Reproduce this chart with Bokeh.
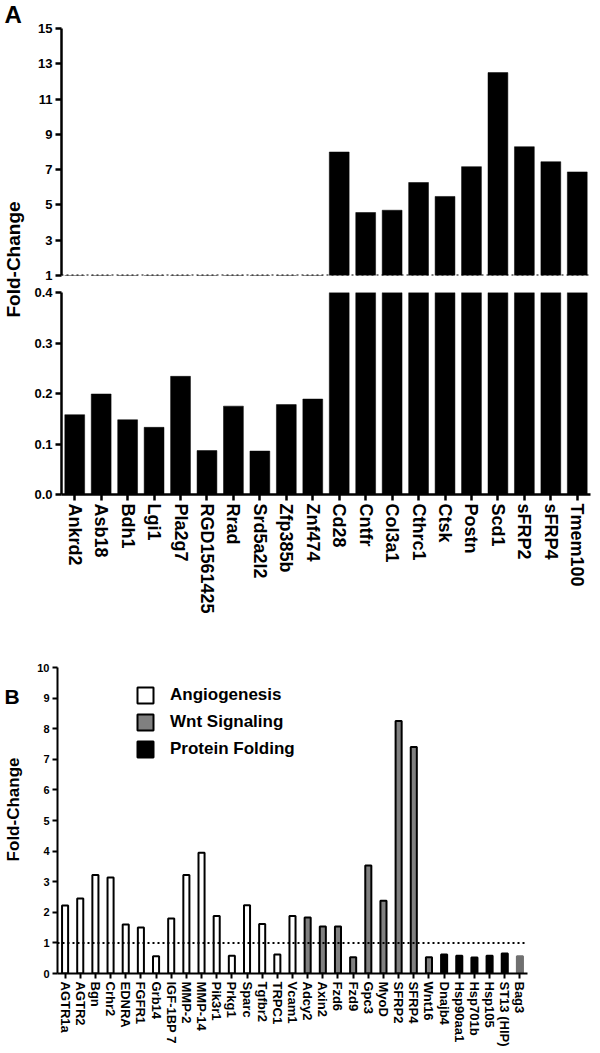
import math
from bokeh.plotting import figure
from bokeh.layouts import column, row
from bokeh.models import (Range1d, FactorRange, FixedTicker, Span, Label, Legend,
                          LegendItem, ColumnDataSource, PrintfTickFormatter)
from bokeh.embed import file_html
from bokeh.resources import INLINE

# ---------------- data ----------------
genes_a = ["Ankrd2", "Asb18", "Bdh1", "Lgi1", "Pla2g7", "RGD1561425", "Rrad", "Srd5a2l2",
           "Zfp385b", "Znf474", "Cd28", "Cntfr", "Col3a1", "Cthrc1", "Ctsk", "Postn", "Scd1",
           "sFRP2", "sFRP4", "Tmem100"]
fold_a = [0.158, 0.199, 0.148, 0.133, 0.234, 0.087, 0.175, 0.086, 0.178, 0.189,
          8.0, 4.57, 4.7, 6.27, 5.48, 7.17, 12.5, 8.3, 7.45, 6.87]
upper_ticks_a = [1, 3, 5, 7, 9, 11, 13, 15]
lower_ticks_a = [0.0, 0.1, 0.2, 0.3, 0.4]

genes_b = ["AGTR1a", "AGTR2", "Bgn", "Crhr2", "EDNRA", "FGFR1", "Grb14", "IGF-1BP 7",
           "MMP-2", "MMP-14", "Pik3r1", "Prkg1", "Sparc", "Tgfbr2", "TRPC1", "Vcam1",
           "Adcy2", "Axin2", "Fzd6", "Fzd9", "Gpc3", "MyoD", "SFRP2", "SFRP4", "Wnt16",
           "Dnajb4", "Hsp90aa1", "Hsp701b", "Hsp105", "ST13 (HIP)", "Bag3"]
fold_b = [2.22, 2.45, 3.22, 3.14, 1.6, 1.5, 0.56, 1.8,
          3.22, 3.95, 1.88, 0.58, 2.23, 1.62, 0.62, 1.88,
          1.83, 1.54, 1.54, 0.53, 3.53, 2.38, 8.25, 7.4, 0.53,
          0.62, 0.58, 0.52, 0.58, 0.65, 0.56]
group_b = (["Angiogenesis"] * 16 + ["Wnt Signaling"] * 9 +
           ["Protein Folding"] * 5 + ["Other"])
legend_groups = ["Angiogenesis", "Wnt Signaling", "Protein Folding"]
ticks_b = [0, 1, 2, 3, 4, 5, 6, 7, 8, 9, 10]

# ---------------- styles ----------------
FONT = "Liberation Sans"
group_style = {
    "Angiogenesis": dict(fill_color="white", line_color="black"),
    "Wnt Signaling": dict(fill_color="#808080", line_color="black"),
    "Protein Folding": dict(fill_color="black", line_color="black"),
    "Other": dict(fill_color="#707070", line_color="#707070"),
}


def style_axis(ax, label_size, lw=2.5, tick_out=6):
    ax.axis_line_width = lw
    ax.axis_line_color = "black"
    ax.major_tick_line_width = lw
    ax.major_tick_line_color = "black"
    ax.major_tick_out = tick_out
    ax.major_tick_in = 0
    ax.minor_tick_line_color = None
    ax.major_label_text_font = FONT
    ax.major_label_text_font_style = "bold"
    ax.major_label_text_font_size = label_size
    ax.major_label_text_color = "black"
    ax.major_label_standoff = 3


def base_fig(**kw):
    f = figure(toolbar_location=None, output_backend="svg", **kw)
    f.outline_line_color = None
    f.grid.visible = False
    f.background_fill_color = "white"
    f.border_fill_color = "white"
    return f


def label_fig(w, h):
    f = figure(width=w, height=h, x_range=Range1d(0, w), y_range=Range1d(0, h),
               toolbar_location=None, output_backend="svg", min_border=0,
               x_axis_location=None, y_axis_location=None)
    f.outline_line_color = None
    f.grid.visible = False
    return f


src_a = ColumnDataSource(dict(gene=genes_a, fold=fold_a))

# ---------------- Panel A (upper part, 1-15) ----------------
LW = 26
H_UP, H_LOW = 283, 338
up = base_fig(width=566, height=H_UP, x_range=FactorRange(*genes_a),
              y_range=Range1d(1, 15), x_axis_location=None,
              min_border_left=35, min_border_right=2, min_border_top=28, min_border_bottom=8)
up.vbar(x="gene", top="fold", bottom=1, width=0.75, source=src_a,
        fill_color="black", line_color="black", line_width=0.5)
up.add_layout(Span(location=1, dimension="width", line_color="black",
                   line_width=2, line_dash="2 3"))
up.yaxis.ticker = FixedTicker(ticks=upper_ticks_a)
style_axis(up.yaxis[0], "13px")

# ---------------- Panel A (lower part, 0-0.4) ----------------
low = base_fig(width=566, height=H_LOW, x_range=up.x_range, y_range=Range1d(0, 0.4),
               min_border_left=35, min_border_right=2, min_border_top=9, min_border_bottom=127)
low.vbar(x="gene", top="fold", bottom=0, width=0.75, source=src_a,
         fill_color="black", line_color="black", line_width=0.5)
low.yaxis.ticker = FixedTicker(ticks=lower_ticks_a)
low.yaxis.formatter = PrintfTickFormatter(format="%.1f")
style_axis(low.yaxis[0], "13px")
style_axis(low.xaxis[0], "18px")
low.xaxis.major_label_orientation = "vertical"
low.x_range.range_padding = 0

labA = label_fig(LW, H_UP + H_LOW)
labA.add_layout(Label(x=4, y=H_UP + H_LOW, text="A", text_font=FONT, text_font_style="bold",
                      text_font_size="24px", text_align="left", text_baseline="top",
                      text_color="black"))
labA.add_layout(Label(x=13, y=H_UP + H_LOW - 259, text="Fold-Change", angle=math.pi / 2,
                      text_font=FONT, text_font_style="bold", text_font_size="19px",
                      text_align="center", text_baseline="middle", text_color="black"))

# ---------------- Panel B ----------------
H_B = 429
pb = base_fig(width=511, height=H_B, x_range=FactorRange(*genes_b), y_range=Range1d(0, 10),
              min_border_left=31, min_border_right=10, min_border_top=46, min_border_bottom=77)
renderers = {}
for grp in group_style:
    gx = [g for g, gr in zip(genes_b, group_b) if gr == grp]
    gy = [v for v, gr in zip(fold_b, group_b) if gr == grp]
    s = ColumnDataSource(dict(gene=gx, fold=gy))
    renderers[grp] = pb.vbar(x="gene", top="fold", bottom=0, width=0.4, source=s,
                             line_width=2, **group_style[grp])
pb.add_layout(Span(location=1, dimension="width", line_color="black",
                   line_width=2, line_dash="2 3"))
pb.yaxis.ticker = FixedTicker(ticks=ticks_b)
style_axis(pb.yaxis[0], "11px", lw=2, tick_out=5)
style_axis(pb.xaxis[0], "13px", lw=2, tick_out=5)
pb.xaxis.major_label_orientation = "vertical"

legend = Legend(items=[LegendItem(label=g, renderers=[renderers[g]]) for g in legend_groups],
                location=(78, 214), glyph_width=20, glyph_height=20, label_height=20,
                label_standoff=15, spacing=7, padding=0, margin=0,
                label_text_font=FONT, label_text_font_style="bold",
                label_text_font_size="17px", label_text_color="black",
                border_line_alpha=0, background_fill_alpha=0)
pb.add_layout(legend)

labB = label_fig(LW, H_B)
labB.add_layout(Label(x=4, y=H_B - 24, text="B", text_font=FONT, text_font_style="bold",
                      text_font_size="21px", text_align="left", text_baseline="top",
                      text_color="black"))
labB.add_layout(Label(x=13, y=H_B - (820 - (H_UP + H_LOW)), text="Fold-Change",
                      angle=math.pi / 2, text_font=FONT, text_font_style="bold",
                      text_font_size="17px", text_align="center", text_baseline="middle",
                      text_color="black"))

layout = column(row(labA, column(up, low, spacing=0), spacing=0),
                row(labB, pb, spacing=0), spacing=0)

open("out.html", "w").write(file_html(layout, INLINE))
